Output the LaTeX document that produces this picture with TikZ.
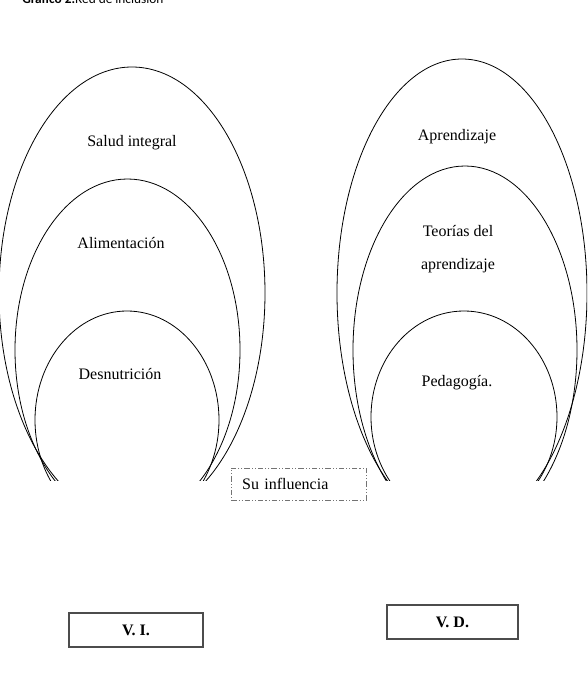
\documentclass[tikz,border=0pt]{standalone}
\usepackage{fontspec}
\setmainfont{Liberation Serif}
\newfontfamily\capfont{Carlito}
\usetikzlibrary{shapes.geometric}

\begin{document}
\begin{tikzpicture}[x=0.75pt, y=-0.75pt,
  every node/.style={font=\fontsize{12}{24.75}\selectfont, align=center},
  ring/.style={draw, ellipse, inner sep=0pt, line width=0.6pt},
  varbox/.style={draw=black!70, line width=1pt, minimum width=100.5pt, minimum height=25.5pt, font=\fontsize{12}{14}\selectfont\bfseries},
  linkbox/.style={draw=black!55, line width=0.5pt, dash pattern=on 4pt off 1.5pt on 0.8pt off 1.5pt on 0.8pt off 1.5pt,
    minimum height=24pt, inner xsep=8.25pt, text width=84.5pt, align=left, font=\fontsize{12}{14}\selectfont}
]
\useasboundingbox (0,0) rectangle (587,676);

% Caption (cut at the top)
\node[anchor=base west, inner sep=0pt, font=\capfont\fontsize{10}{11}\selectfont] (cap) at (22,3.5) {\textbf{Gráfico 2.}Red de inclusión};

% Ellipses, cut at the bottom
\begin{scope}
  \clip (0,0) rectangle (587,480);
  % Left set
  \node[ring, minimum width=199.5pt, minimum height=339pt] (salud) at (132,293) {};
  \node[ring, minimum width=168.75pt, minimum height=256.5pt] (alim) at (127.5,350) {};
  \node[ring, minimum width=138pt, minimum height=163.5pt] (desn) at (127,420) {};
  % Right set
  \node[ring, minimum width=187.5pt, minimum height=351pt] (apren) at (462,293) {};
  \node[ring, minimum width=168pt, minimum height=276pt] (teor) at (465,350) {};
  \node[ring, minimum width=139.5pt, minimum height=159pt] (peda) at (464,417) {};
\end{scope}

% Labels
\node (tsalud) at (132,143) {Salud integral};
\node (talim) at (121,243) {Alimentación};
\node (tdesn) at (120,374) {Desnutrición};
\node (tapren) at (457,137) {Aprendizaje};
\node (tteor) at (458,249) {Teorías del\\aprendizaje};
\node (tpeda) at (457,383) {Pedagogía.};

% Link box
\node[linkbox] (infl) at (298.5,484) {Su influencia};

% Variable boxes
\node[varbox] (vi) at (136,630) {V. I.};
\node[varbox, minimum width=98.25pt] (vd) at (452.5,622) {V. D.};

\end{tikzpicture}
\end{document}
